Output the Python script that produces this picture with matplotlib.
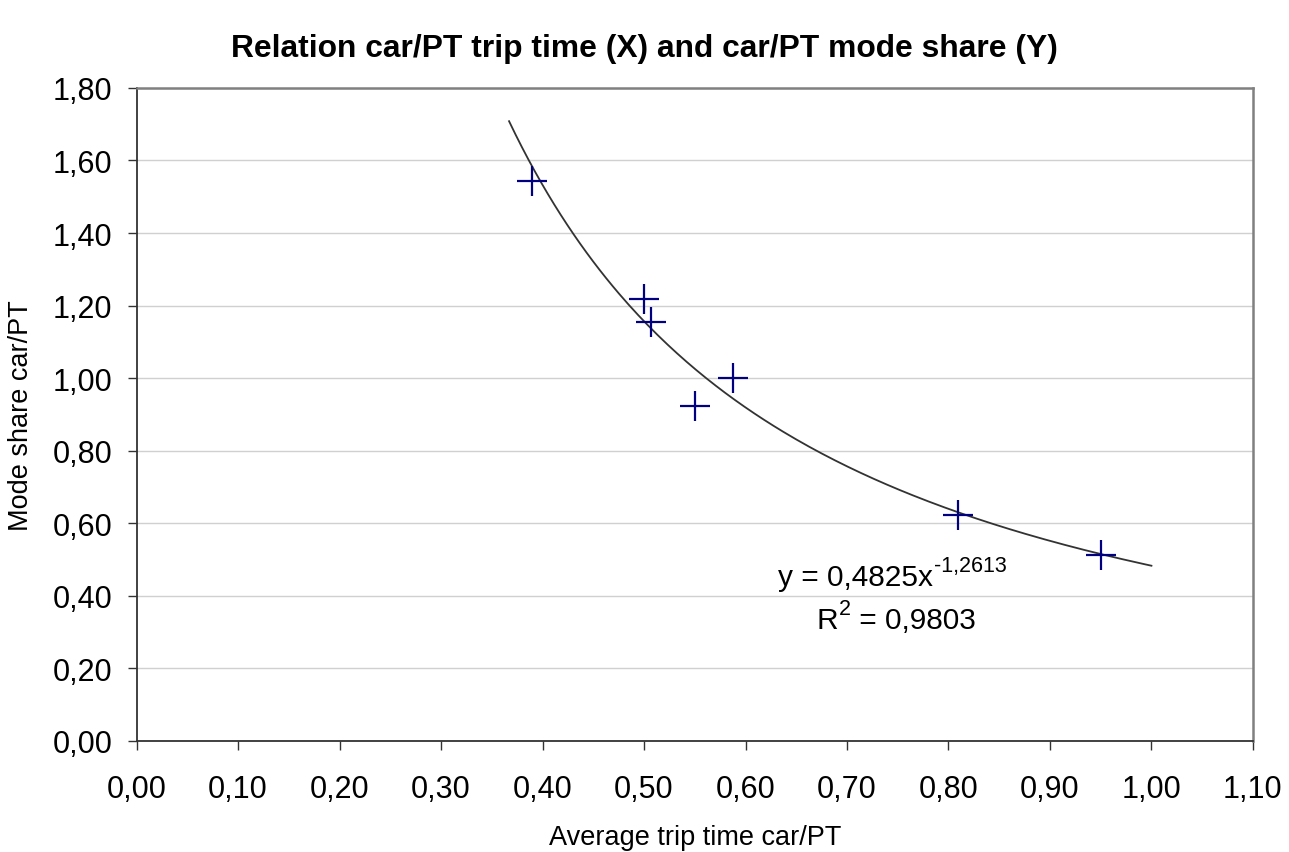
import matplotlib
import numpy as np

matplotlib.use("Agg")
import matplotlib.pyplot as plt
from matplotlib.ticker import FuncFormatter

plt.rcParams["font.family"] = ["Liberation Sans", "DejaVu Sans"]

# measured points (avg trip time car/PT, mode share car/PT)
trip_time = [0.39, 0.50, 0.507, 0.55, 0.588, 0.809, 0.95]
mode_share = [1.544, 1.218, 1.154, 0.924, 1.000, 0.623, 0.513]

# power trendline y = a * x^b as shown on the chart
trend_a = 0.4825
trend_b = -1.2613
trend_range = [0.367, 1.0]

x_ticks = [0.0, 0.1, 0.2, 0.3, 0.4, 0.5, 0.6, 0.7, 0.8, 0.9, 1.0, 1.1]
y_ticks = [0.0, 0.2, 0.4, 0.6, 0.8, 1.0, 1.2, 1.4, 1.6, 1.8]

fig = plt.figure(figsize=(12.89, 8.53), dpi=100)
ax = fig.add_axes([0.106, 0.1305, 0.866, 0.7652])

xs = np.linspace(trend_range[0], trend_range[1], 200)
ax.plot(xs, trend_a * xs ** trend_b, color="#333333", lw=1.3, zorder=3)
ax.plot(trip_time, mode_share, ls="none", marker="+", ms=22, mew=1.6,
        color="#000080", zorder=4)

ax.set_xlim(x_ticks[0], x_ticks[-1])
ax.set_ylim(y_ticks[0], y_ticks[-1])
ax.set_xticks(x_ticks)
ax.set_yticks(y_ticks)
comma = FuncFormatter(lambda v, _: f"{v:.2f}".replace(".", ","))
ax.xaxis.set_major_formatter(comma)
ax.yaxis.set_major_formatter(comma)
ax.tick_params(labelsize=22, length=6.5, width=1, color="#333333")
ax.tick_params(axis="x", pad=17.5)
ax.tick_params(axis="y", pad=11)
ax.yaxis.grid(True, color="#d0d0d0", lw=1)
ax.set_axisbelow(True)

for side in ("left", "bottom"):
    ax.spines[side].set_color("#333333")
    ax.spines[side].set_linewidth(1.3)
for side in ("top", "right"):
    ax.spines[side].set_color("#808080")
    ax.spines[side].set_linewidth(1.8)

ax.set_xlabel("Average trip time car/PT", fontsize=19.5)
ax.set_ylabel("Mode share car/PT", fontsize=19.5)
ax.xaxis.set_label_coords(0.5, -0.128)
ax.yaxis.set_label_coords(-0.092, 0.5)
fig.text(0.5, 0.943, "Relation car/PT trip time (X) and car/PT mode share (Y)",
         fontsize=22.9, fontweight="bold", ha="center", va="center")

# trendline label with real superscripts
eq = ax.text(0.632, 0.429, "y = 0,4825x", fontsize=21.5, va="baseline")
ax.annotate("-1,2613", xy=(1, 0), xycoords=eq, xytext=(0.5, 14.5),
            textcoords="offset points", fontsize=15.5, va="baseline")
r = ax.text(0.670, 0.311, "R", fontsize=21.5, va="baseline")
sup = ax.annotate("2", xy=(1, 0), xycoords=r, xytext=(0.5, 14.5),
                  textcoords="offset points", fontsize=15.5, va="baseline")
ax.annotate(" = 0,9803", xy=(1, 0), xycoords=(sup, r), xytext=(0, 0),
            textcoords="offset points", fontsize=21.5, va="bottom")

fig.savefig("out.png", dpi=100)
plt.close(fig)
